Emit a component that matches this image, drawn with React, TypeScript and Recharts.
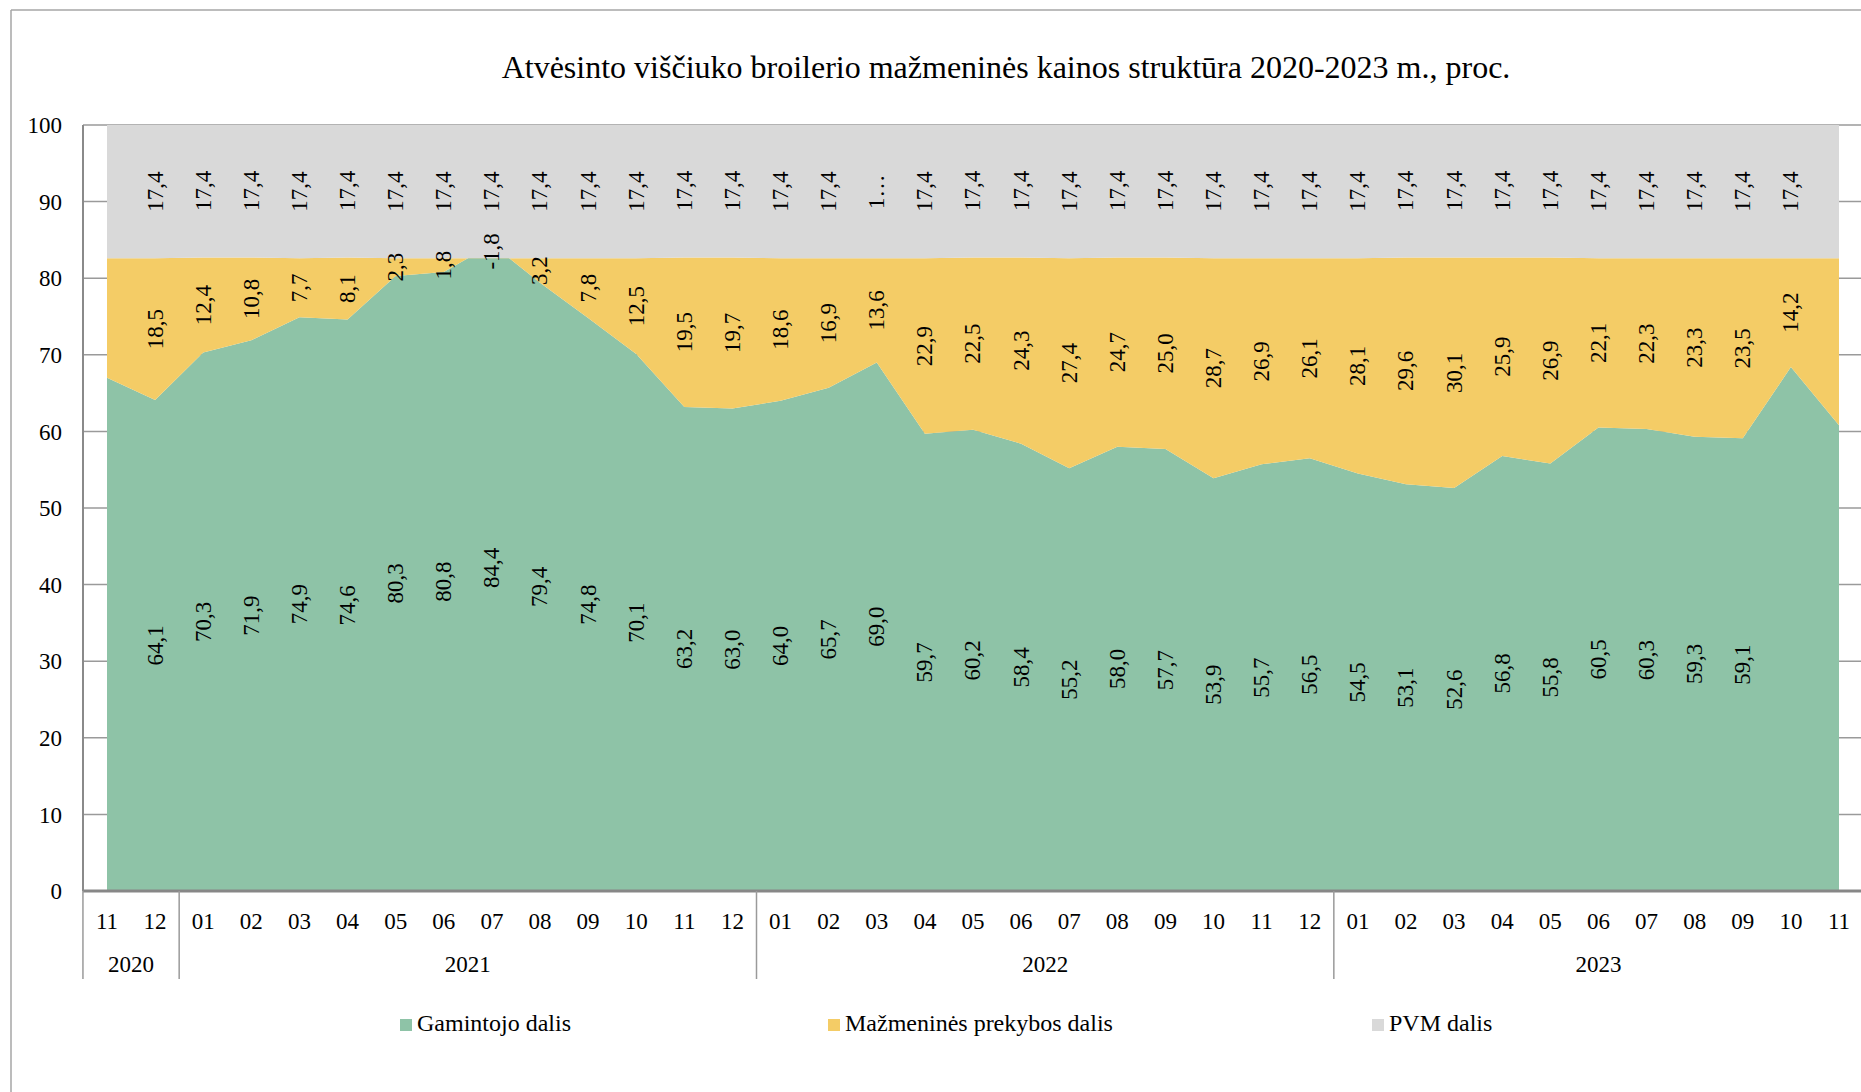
import { Area, CartesianGrid, ComposedChart, LabelList, Line, XAxis, YAxis } from 'recharts';

const FONT = '"Liberation Serif", "Times New Roman", serif';

const MONTHS = [
  '11', '12',
  '01', '02', '03', '04', '05', '06', '07', '08', '09', '10', '11', '12',
  '01', '02', '03', '04', '05', '06', '07', '08', '09', '10', '11', '12',
  '01', '02', '03', '04', '05', '06', '07', '08', '09', '10', '11',
];
const YEARS = [
  '2020', '2020',
  '2021', '2021', '2021', '2021', '2021', '2021', '2021', '2021', '2021', '2021', '2021', '2021',
  '2022', '2022', '2022', '2022', '2022', '2022', '2022', '2022', '2022', '2022', '2022', '2022',
  '2023', '2023', '2023', '2023', '2023', '2023', '2023', '2023', '2023', '2023', '2023',
];

// Gamintojo dalis
const GAMINTOJO = [
  67.0, 64.1,
  70.3, 71.9, 74.9, 74.6, 80.3, 80.8, 84.4, 79.4, 74.8, 70.1, 63.2, 63.0,
  64.0, 65.7, 69.0, 59.7, 60.2, 58.4, 55.2, 58.0, 57.7, 53.9, 55.7, 56.5,
  54.5, 53.1, 52.6, 56.8, 55.8, 60.5, 60.3, 59.3, 59.1, 68.4, 60.8,
];
// Mažmeninės prekybos dalis
const PREKYBA = [
  15.6, 18.5,
  12.4, 10.8, 7.7, 8.1, 2.3, 1.8, -1.8, 3.2, 7.8, 12.5, 19.5, 19.7,
  18.6, 16.9, 13.6, 22.9, 22.5, 24.3, 27.4, 24.7, 25.0, 28.7, 26.9, 26.1,
  28.1, 29.6, 30.1, 25.9, 26.9, 22.1, 22.3, 23.3, 23.5, 14.2, 21.8,
];
// PVM dalis
const PVM = [
  17.4, 17.4,
  17.4, 17.4, 17.4, 17.4, 17.4, 17.4, 17.4, 17.4, 17.4, 17.4, 17.4, 17.4,
  17.4, 17.4, 17.4, 17.4, 17.4, 17.4, 17.4, 17.4, 17.4, 17.4, 17.4, 17.4,
  17.4, 17.4, 17.4, 17.4, 17.4, 17.4, 17.4, 17.4, 17.4, 17.4, 17.4,
];

// points that carry no data label in the original
const NO_LABEL_GAMINTOJO = [0, 35, 36];
const NO_LABEL_PREKYBA = [0, 36];
const NO_LABEL_PVM = [0, 36];
const CUT_LABEL_PVM = [16]; // shown as "1…"

const Y_TICKS = [0, 10, 20, 30, 40, 50, 60, 70, 80, 90, 100];

const GREEN = '#8ec3a7';
const YELLOW = '#f4cc66';
const GREY = '#d9d9d9';
const LINE = '#9a9a9a';

const fmt = (v: number) => v.toFixed(1).replace('.', ',');

const data = MONTHS.map((m, i) => ({
  key: `${YEARS[i]}-${m}`,
  g: GAMINTOJO[i],
  p: PREKYBA[i],
  v: PVM[i],
  gMid: GAMINTOJO[i] / 2,
  pMid: GAMINTOJO[i] + PREKYBA[i] / 2,
  vMid: GAMINTOJO[i] + PREKYBA[i] + PVM[i] / 2,
  gLabel: NO_LABEL_GAMINTOJO.includes(i) ? null : fmt(GAMINTOJO[i]),
  pLabel: NO_LABEL_PREKYBA.includes(i) ? null : fmt(PREKYBA[i]),
  vLabel: NO_LABEL_PVM.includes(i) ? null : CUT_LABEL_PVM.includes(i) ? '1…' : fmt(PVM[i]),
}));

const CHART_W = 1870;
const CHART_H = 1092;
const Y_AXIS_W = 83;
const PAD = 24;
const PLOT_RIGHT = CHART_W - 7;
const STEP = (PLOT_RIGHT - Y_AXIS_W - 2 * PAD) / (MONTHS.length - 1);

const VerticalLabel = (props: any) => {
  const { x, y, value } = props;
  if (value == null || value === '') return null;
  return (
    <text
      x={x}
      y={y}
      transform={`rotate(-90, ${x}, ${y})`}
      textAnchor="middle"
      dominantBaseline="central"
      fontSize={23}
      fontFamily={FONT}
      fill="#000"
    >
      {value}
    </text>
  );
};

const MonthTick = (props: any) => {
  const { x, y, payload } = props;
  const i = data.findIndex((d) => d.key === payload.value);
  if (i < 0) return null;
  const first = i === 0 || YEARS[i] !== YEARS[i - 1];
  const n = YEARS.filter((yr) => yr === YEARS[i]).length;
  return (
    <g>
      <text x={x} y={y + 30} textAnchor="middle" dominantBaseline="central" fontSize={23} fontFamily={FONT} fill="#000">
        {MONTHS[i]}
      </text>
      {first && (
        <>
          <line x1={x - STEP / 2} x2={x - STEP / 2} y1={y} y2={y + 88} stroke={LINE} strokeWidth={1.5} />
          <text x={x + ((n - 1) * STEP) / 2} y={y + 73} textAnchor="middle" dominantBaseline="central" fontSize={23} fontFamily={FONT} fill="#000">
            {YEARS[i]}
          </text>
        </>
      )}
    </g>
  );
};

const LEGEND = [
  { name: 'Gamintojo dalis', color: GREEN, x: 400 },
  { name: 'Mažmeninės prekybos dalis', color: YELLOW, x: 828 },
  { name: 'PVM dalis', color: GREY, x: 1372 },
];

const App = () => {
  return (
    <div style={{ position: 'absolute', left: 0, top: 0, width: 1861, height: 1092, overflow: 'hidden', background: '#fff' }}>
      <ComposedChart
        width={CHART_W}
        height={CHART_H}
        data={data}
        margin={{ top: 125, right: CHART_W - PLOT_RIGHT, bottom: 111, left: 0 }}
      >
        <CartesianGrid vertical={false} stroke={LINE} strokeWidth={1.5} />
        <XAxis
          dataKey="key"
          interval={0}
          height={90}
          padding={{ left: PAD, right: PAD }}
          tickLine={false}
          tickSize={0}
          tickMargin={0}
          axisLine={{ stroke: '#878787', strokeWidth: 3 }}
          tick={<MonthTick />}
        />
        <YAxis
          width={Y_AXIS_W}
          domain={[0, 100]}
          ticks={Y_TICKS}
          allowDataOverflow
          tickLine={false}
          tickSize={0}
          tickMargin={21}
          axisLine={{ stroke: '#8a8a8a', strokeWidth: 2 }}
          tick={{ fontSize: 23, fontFamily: FONT, fill: '#000' }}
        />
        <Area type="linear" dataKey="g" stackId="s" stroke="none" fill={GREEN} fillOpacity={1} dot={false} activeDot={false} isAnimationActive={false} />
        <Area type="linear" dataKey="p" stackId="s" stroke="none" fill={YELLOW} fillOpacity={1} dot={false} activeDot={false} isAnimationActive={false} />
        <Area type="linear" dataKey="v" stackId="s" stroke="none" fill={GREY} fillOpacity={1} dot={false} activeDot={false} isAnimationActive={false} />
        <Line dataKey="gMid" stroke="none" dot={false} activeDot={false} legendType="none" isAnimationActive={false}>
          <LabelList dataKey="gLabel" content={<VerticalLabel />} />
        </Line>
        <Line dataKey="pMid" stroke="none" dot={false} activeDot={false} legendType="none" isAnimationActive={false}>
          <LabelList dataKey="pLabel" content={<VerticalLabel />} />
        </Line>
        <Line dataKey="vMid" stroke="none" dot={false} activeDot={false} legendType="none" isAnimationActive={false}>
          <LabelList dataKey="vLabel" content={<VerticalLabel />} />
        </Line>
      </ComposedChart>
      <svg width={1861} height={1092} style={{ position: 'absolute', left: 0, top: 0, pointerEvents: 'none' }}>
        <line x1={11} x2={11} y1={10} y2={1092} stroke="#a6a6a6" strokeWidth={1.5} />
        <line x1={11} x2={1861} y1={10} y2={10} stroke="#a6a6a6" strokeWidth={1.5} />
        <text x={1006} y={78} textAnchor="middle" fontSize={32} fontFamily={FONT} fill="#000">
          Atvėsinto viščiuko broilerio mažmeninės kainos struktūra 2020-2023 m., proc.
        </text>
        {LEGEND.map((item) => (
          <g key={item.name}>
            <rect x={item.x} y={1019} width={12} height={12} fill={item.color} />
            <text x={item.x + 17} y={1031} fontSize={24} fontFamily={FONT} fill="#000">
              {item.name}
            </text>
          </g>
        ))}
      </svg>
    </div>
  );
};

export default App;
